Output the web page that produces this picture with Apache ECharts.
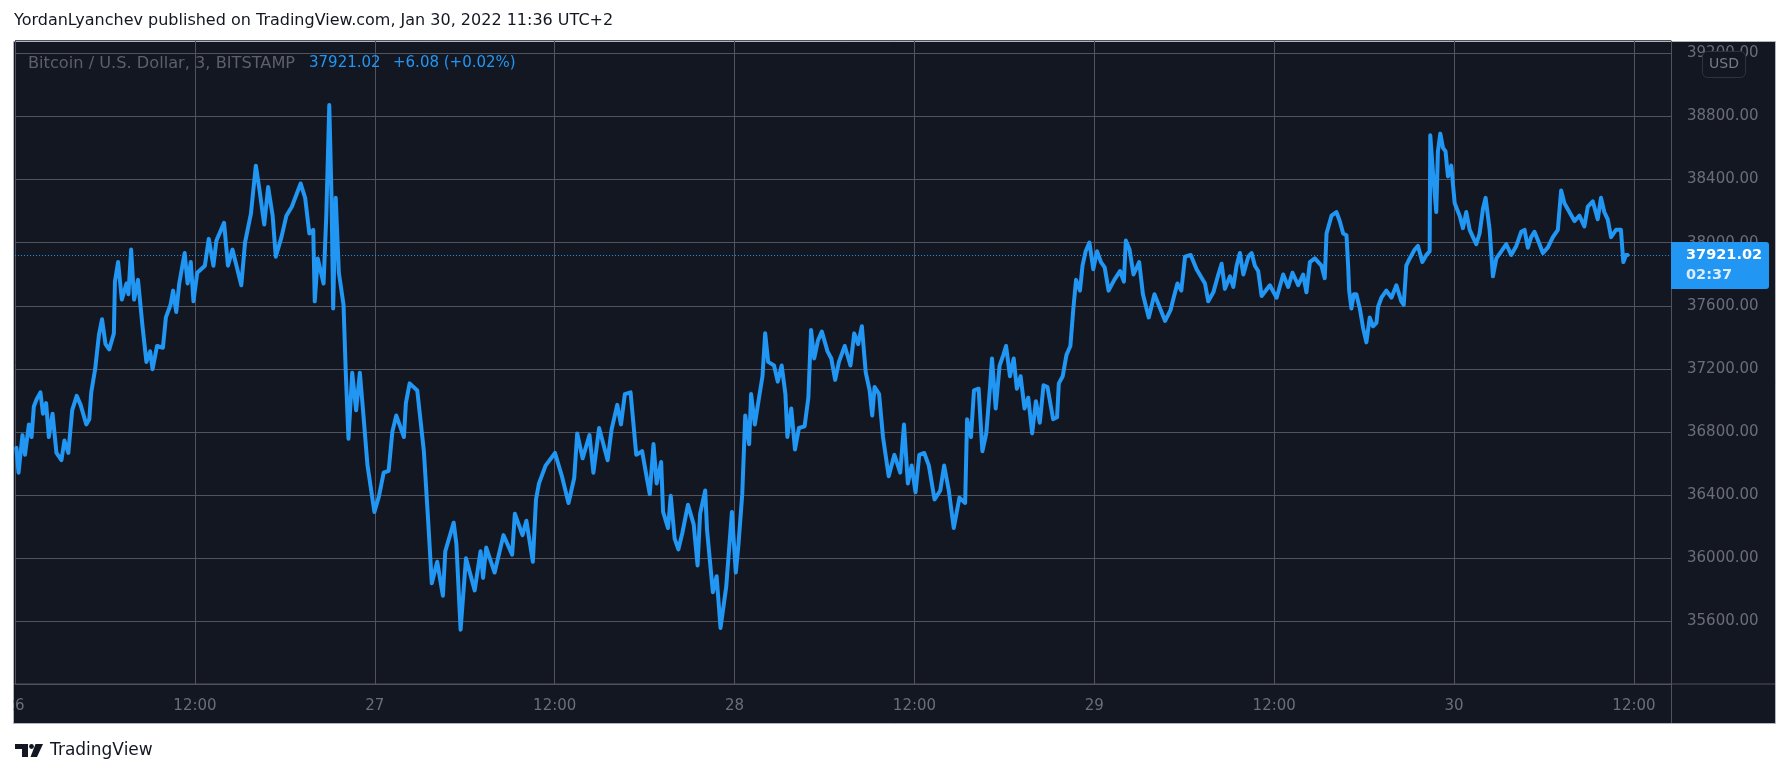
<!DOCTYPE html>
<html><head><meta charset="utf-8">
<script src="https://cdn.jsdelivr.net/npm/echarts@6/dist/echarts.min.js"></script>
<style>html,body{margin:0;padding:0;background:#fff;}#c{width:1791px;height:778px;}</style>
</head><body><div id="c"></div>
<script>
// Hours since Jan 26, 2022 00:00 (chart time, UTC+2) and BTC/USD price
const hoursA=[0.08,0.23,0.49,0.66,0.92,1.10,1.25,1.43,1.69,1.86,2.07,2.25,2.50,2.76,3.09,3.29,3.55,3.81,4.11,4.37,4.75,4.95,5.08,5.34,5.59,5.80,6.03,6.28,6.59,6.66,6.87,7.12,7.43,7.56,7.74,7.94,8.20,8.50,8.76,9.01,9.17,9.47,9.86,10.06,10.37,10.54,10.75,10.95,11.31,11.51,11.72,11.90,12.15,12.66,12.92,13.23,13.43,13.94,14.20,14.50,15.09,15.34,15.73,16.06,16.31,16.62,16.88,17.18,17.39,17.77,18.10,18.46,19.05,19.35,19.63,19.89,19.99,20.19,20.58,20.76,20.96,21.11,21.22,21.39,21.60,21.91,22.06,22.24,22.49,22.75,23.00,23.21,23.51,23.97,24.28,24.59,24.92,25.17,25.43,25.94,26.07,26.32,26.83,27.27,27.55,27.80,28.16,28.54,28.70,29.26,29.44,29.72,30.08,30.66,31.05,31.22,31.43,31.99,32.58,33.16,33.34,33.85,34.11,34.54,34.75,34.95,35.39,36.02,36.48,36.92,37.30,37.50,37.86,38.32,38.58,38.96];
const pricesA=[36700,36542,36780,36655,36848,36768,36961,37006,37051,36916,36983,36768,36916,36667,36621,36746,36667,36938,37029,36972,36848,36881,37051,37198,37413,37515,37357,37323,37425,37753,37877,37639,37741,37673,37956,37639,37764,37470,37244,37311,37198,37345,37334,37526,37606,37696,37560,37741,37934,37741,37877,37628,37809,37854,38024,37854,38013,38126,37854,37956,37730,38001,38182,38488,38330,38115,38352,38171,37911,38035,38171,38228,38375,38284,38058,38081,37628,37900,37741,38171,38872,38284,37583,38284,37809,37606,37176,36757,37176,36938,37176,36938,36587,36293,36395,36542,36554,36802,36904,36768,36983,37108,37063,36678,36248,35841,35977,35762,36044,36225,36090,35547,35999,35796,36044,35875,36067,35909,36146,36022,36282,36146,36237,35977,36372,36474,36587,36667,36519,36350,36508,36791,36633,36780,36542,36825];
const hoursB=[39.53,39.79,40.17,40.42,40.68,41.06,41.44,41.83,42.08,42.34,42.59,42.80,43.10,43.23,43.56,43.74,44.00,44.25,44.51,44.89,45.27,45.53,45.70,46.04,46.16,46.55,46.80,47.06,47.44,47.82,48.08,48.26,48.51,48.71,48.97,49.10,49.35,49.61,49.86,50.04,50.24,50.63,50.88,51.14,51.39,51.52,51.78,52.03,52.29,52.67,52.92,53.10,53.31,53.56,53.82,54.20,54.45,54.71,54.96,55.35,55.73,55.98,56.24,56.49,56.75,57.01,57.18,57.34,57.64,57.90,58.28,58.66,59.05,59.30,59.56,59.81,60.07,60.32,60.65,60.96,61.34,61.72,61.98,62.29,62.62,63.00,63.38,63.51,63.77,63.97,64.28,64.53,64.79,65.04,65.17,65.42,65.68,65.93,66.11,66.37,66.62,66.83,67.08,67.34,67.59,67.85,68.10,68.36,68.61,68.87,69.25,69.51,69.63,69.89,70.14,70.40,70.60,70.78,71.04,71.21,71.42,71.67,71.93,72.18,72.44,72.69,72.95,73.33,73.71,73.97,74.10,74.35,74.61,74.99,75.24,75.63,76.01,76.39,76.72,77.08,77.29,77.54,77.80,78.05,78.43,78.82];
const pricesB=[36621,36814,36972,36848,37040,37051,36655,36678,36542,36406,36723,36474,36610,36293,36191,36395,36124,36056,36158,36339,36214,35954,36282,36429,36180,35784,35886,35558,35818,36293,35909,36090,36406,36904,36723,37040,36848,37006,37153,37425,37244,37221,37119,37221,37040,36768,36949,36689,36825,36836,37017,37447,37266,37379,37436,37311,37266,37130,37244,37345,37221,37425,37357,37470,37176,37063,36904,37085,37040,36768,36519,36655,36542,36848,36474,36587,36418,36655,36667,36587,36372,36429,36587,36429,36191,36384,36350,36881,36768,37063,37074,36678,36791,37085,37266,36949,37221,37289,37345,37153,37266,37074,37153,36949,37017,36791,36995,36859,37096,37085,36881,36893,37108,37153,37289,37345,37583,37764,37696,37854,37945,38001,37832,37945,37877,37843,37696,37764,37820,37753,38013,37956,37798,37877,37673,37526,37673,37583,37504,37572,37651,37741,37696,37911,37922,37832];
const hoursC=[79.38,79.60,79.94,80.27,80.49,80.71,81.05,81.27,81.49,81.71,81.94,82.27,82.49,82.71,82.93,83.16,83.71,84.16,84.60,84.93,85.22,85.60,85.93,86.15,86.38,86.71,87.15,87.37,87.49,87.82,88.15,88.37,88.60,88.82,88.93,89.00,89.15,89.31,89.48,89.71,89.93,90.15,90.37,90.59,90.82,90.93,91.15,91.48,91.82,92.15,92.48,92.64,92.81,93.04,93.37,93.59,93.88,94.15,94.37,94.41,94.59,94.81,94.92,95.08,95.26,95.43,95.59,95.81,96.04,96.37,96.59,96.81,97.04,97.26,97.48,97.70,97.93,98.10,98.37,98.59,98.82,99.15,99.48,99.81,100.15,100.48,100.70,100.92,101.14,101.36,101.70,101.92,102.25,102.59,102.92,103.14,103.36,103.69,104.03,104.36,104.69,104.92,105.25,105.58,105.80,106.02,106.25,106.47,106.80,107.13,107.29,107.47,107.58];
const pricesC=[37741,37628,37685,37798,37866,37707,37787,37719,37854,37934,37798,37911,37934,37854,37820,37662,37730,37651,37798,37719,37809,37730,37798,37685,37877,37900,37854,37775,38058,38171,38194,38137,38058,38047,37854,37696,37583,37673,37673,37583,37458,37368,37526,37470,37492,37594,37651,37696,37651,37730,37628,37606,37854,37900,37956,37979,37877,37922,37945,38680,38443,38194,38578,38691,38601,38578,38420,38488,38250,38171,38092,38194,38081,38035,37990,38058,38216,38284,38081,37787,37900,37945,37990,37922,37979,38069,38081,37968,38035,38069,37990,37934,37968,38035,38081,38330,38250,38194,38137,38171,38103,38228,38262,38148,38284,38194,38148,38035,38081,38081,37877,37922,37921.02];

const lastPrice = 37921.02;
const changeText = '+6.08 (+0.02%)';
const countdown = '02:37';
const symbolText = 'Bitcoin / U.S. Dollar, 3, BITSTAMP';
const headerText = 'YordanLyanchev published on TradingView.com, Jan 30, 2022 11:36 UTC+2';
const currency = 'USD';
const firstDay = 26;           // day-of-month at hour 0
const halfDayLabel = '12:00';
const xMin = 0, xMax = 110.47, xStep = 12;
const yMin = 35200, yMax = 39280, yStep = 400;

const hours = hoursA.concat(hoursB, hoursC);
const prices = pricesA.concat(pricesB, pricesC);
const seriesData = hours.map((h, i) => [h, prices[i]]);

const FONT = '"DejaVu Sans", sans-serif';
const GRID = '#50535e';
const LABEL = '#6b6e79';
const BLUE = '#2196f3';

const chart = echarts.init(document.getElementById('c'), null, {renderer: 'canvas'});
chart.setOption({
  animation: false,
  backgroundColor: '#ffffff',
  grid: {left: 15.1, right: 120, top: 40.7, bottom: 93.6, containLabel: false},
  xAxis: {
    type: 'value',
    min: xMin, max: xMax, interval: xStep,
    axisLine: {show: false},
    axisTick: {show: false},
    splitLine: {show: true, lineStyle: {color: GRID, width: 1}},
    axisLabel: {
      color: LABEL, fontFamily: FONT, fontSize: 15, margin: 14,
      showMinLabel: true, showMaxLabel: false,
      formatter: function (v) {
        if (Math.abs(v % 24) < 1e-6) return String(firstDay + Math.round(v / 24));
        return halfDayLabel;
      }
    }
  },
  yAxis: {
    type: 'value',
    position: 'right',
    min: yMin, max: yMax, interval: yStep,
    axisLine: {show: false},
    axisTick: {show: false},
    splitLine: {show: true, lineStyle: {color: GRID, width: 1}},
    axisLabel: {
      color: LABEL, fontFamily: FONT, fontSize: 15, margin: 16,
      showMinLabel: false, showMaxLabel: false,
      formatter: v => v.toFixed(2)
    }
  },
  series: [{
    type: 'line',
    data: seriesData,
    showSymbol: false,
    symbol: 'none',
    z: 3,
    lineStyle: {color: BLUE, width: 4, join: 'round', cap: 'round'},
    markLine: {
      silent: true, symbol: ['none', 'none'], label: {show: false},
      lineStyle: {color: BLUE, width: 1, type: [1, 2]},
      data: [{yAxis: lastPrice}]
    }
  }],
  graphic: [
    {type: 'rect', z: -10, shape: {x: 13.5, y: 41.5, width: 1762, height: 682},
      style: {fill: '#131722', stroke: '#b2b5be', lineWidth: 1}},
    {type: 'line', z: 5, shape: {x1: 1671.5, y1: 42, x2: 1671.5, y2: 723}, style: {stroke: GRID, lineWidth: 1}},
    {type: 'line', z: 5, shape: {x1: 14, y1: 684, x2: 1775, y2: 684}, style: {stroke: GRID, lineWidth: 1}},
    {type: 'rect', z: 20, shape: {x: 0, y: 685, width: 13, height: 40}, style: {fill: '#ffffff'}},
    {type: 'text', z: 20, left: 14, top: 13,
      style: {text: headerText, fill: '#131722', font: '16px ' + FONT}},
    {type: 'text', z: 20, left: 28, top: 56,
      style: {text: symbolText, fill: '#5d606b', font: '16.2px ' + FONT}},
    {type: 'text', z: 20, left: 309, top: 56,
      style: {text: lastPrice.toFixed(2), fill: BLUE, font: '15px ' + FONT}},
    {type: 'text', z: 20, left: 393, top: 56,
      style: {text: changeText, fill: BLUE, font: '15px ' + FONT}},
    {type: 'rect', z: 20, shape: {x: 1702.5, y: 51.5, width: 43, height: 26, r: 5},
      style: {fill: '#131722', stroke: '#2f3340', lineWidth: 1}},
    {type: 'text', z: 21, left: 1709, top: 57,
      style: {text: currency, fill: '#787b86', font: '14px ' + FONT}},
    {type: 'rect', z: 20, shape: {x: 1671, y: 242, width: 98, height: 47, r: [0, 3, 3, 0]},
      style: {fill: BLUE}},
    {type: 'text', z: 21, left: 1686, top: 248,
      style: {text: lastPrice.toFixed(2), fill: '#ffffff', font: 'bold 14.5px ' + FONT}},
    {type: 'text', z: 21, left: 1686, top: 268,
      style: {text: countdown, fill: '#dcecfd', font: 'bold 14.5px ' + FONT}},
    {type: 'rect', z: 20, shape: {x: 15, y: 744, width: 13, height: 5}, style: {fill: '#131722'}},
    {type: 'rect', z: 20, shape: {x: 22, y: 744, width: 6, height: 13}, style: {fill: '#131722'}},
    {type: 'circle', z: 20, shape: {cx: 31.5, cy: 746.5, r: 2.4}, style: {fill: '#131722'}},
    {type: 'polygon', z: 20, shape: {points: [[35.5, 744], [43, 744], [37, 757], [30.5, 757]]}, style: {fill: '#131722'}},
    {type: 'text', z: 20, left: 50, top: 742,
      style: {text: 'TradingView', fill: '#131722', font: '17px ' + FONT}}
  ]
});
</script></body></html>
